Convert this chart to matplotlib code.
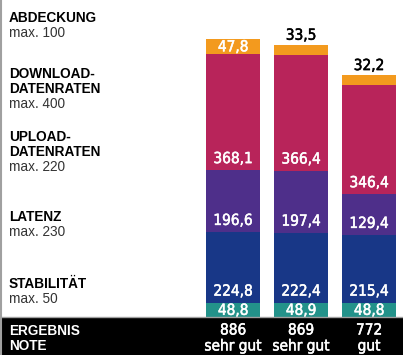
import numpy as np
import matplotlib.pyplot as plt
import matplotlib.patheffects as pe
from matplotlib.patches import Rectangle
from matplotlib.lines import Line2D

# Teilnoten je Kategorie (von unten nach oben gestapelt)
kategorien = ["STABILITÄT", "LATENZ", "UPLOAD-\nDATENRATEN", "DOWNLOAD-\nDATENRATEN", "ABDECKUNG"]
maxima = [50, 230, 220, 400, 100]
stabilitaet = [48.8, 48.9, 48.8]
latenz = [224.8, 222.4, 215.4]
upload = [196.6, 197.4, 129.4]
download = [368.1, 366.4, 346.4]
abdeckung = [47.8, 33.5, 32.2]
noten = ["sehr gut", "sehr gut", "gut"]

farben = ["#23928a", "#183787", "#4e2f8a", "#b8245a", "#f39a1e"]

W, H = 403, 355
fig = plt.figure(figsize=(W / 100, H / 100), dpi=100)
fig.patch.set_facecolor("white")

band = 37          # schwarzer Ergebnisbalken unten, px
px_per_unit = 0.3145
ax = fig.add_axes([0, band / H, 1, 1 - band / H])
ax.set_ylim(0, (H - band) / px_per_unit)
ax.set_xlim(-233 / 68, (W - 233) / 68)
ax.axis("off")


def zahl(farbe):
    # schmale Schrift, leicht nachgedickt
    return dict(family="DejaVu Sans", stretch="condensed", fontsize=11, color=farbe,
                path_effects=[pe.withStroke(linewidth=0.35, foreground=farbe)])


x = np.arange(3)
reihen = [stabilitaet, latenz, upload, download, abdeckung]
unten = np.zeros(3)
for i, (werte, farbe) in enumerate(zip(reihen, farben)):
    werte = np.array(werte)
    ax.bar(x, werte, bottom=unten, width=54 / 68, color=farbe, linewidth=0)
    for xi, v, b in zip(x, werte, unten):
        txt = f"{v:.1f}".replace(".", ",")
        if i == 0 or (i == len(reihen) - 1 and v >= 40):
            ax.text(xi, b + v / 2, txt, ha="center", va="center", **zahl("white"))
        elif i == len(reihen) - 1:
            ax.annotate(txt, (xi, b + v), xytext=(0, 1.5), textcoords="offset points",
                        ha="center", va="bottom", **zahl("black"))
        else:
            ax.annotate(txt, (xi, b), xytext=(0, 8.3), textcoords="offset points",
                        ha="center", va="center", **zahl("white"))
    unten += werte

# Ergebnisband
fig.add_artist(Rectangle((0, 0), 1, band / H, transform=fig.transFigure,
                         facecolor="black", edgecolor="none", zorder=0))
fig.add_artist(Line2D([0, 1], [(band + 1) / H] * 2, transform=fig.transFigure,
                      color="#a0a0a0", lw=1, zorder=1))
fig.add_artist(Line2D([0.6 / W] * 2, [0, 1], transform=fig.transFigure,
                      color="#a0a0a0", lw=1.5, zorder=1))

gesamt = np.round(unten).astype(int)
for xi, g, n in zip(x, gesamt, noten):
    xf = (233 + 68 * xi) / W
    fig.text(xf, 1 - 330 / H, str(g), ha="center", va="center", **zahl("white"))
    fig.text(xf, 1 - 346 / H, n, ha="center", va="center", **zahl("white"))

# Kategoriebeschriftungen links (y-Position der ersten Zeile in px)
label_y = [284, 217, 137, 74, 18]
for name, mx, y0 in zip(kategorien, maxima, label_y):
    zeilen = name.split("\n")
    for k, z in enumerate(zeilen):
        fig.text(9 / W, 1 - (y0 + 15 * k) / H, z, ha="left", va="center",
                 fontsize=9.8, fontweight="bold", family="Liberation Sans")
    fig.text(9 / W, 1 - (y0 + 15 * len(zeilen)) / H, f"max. {mx}", ha="left",
             va="center", fontsize=9.8, color="#333333", family="Liberation Sans")

fig.text(9 / W, 1 - 331 / H, "ERGEBNIS", ha="left", va="center", color="white",
         fontsize=9.8, fontweight="bold", family="Liberation Sans")
fig.text(9 / W, 1 - 346 / H, "NOTE", ha="left", va="center", color="white",
         fontsize=9.8, fontweight="bold", family="Liberation Sans")

fig.savefig("out.png", dpi=100)
